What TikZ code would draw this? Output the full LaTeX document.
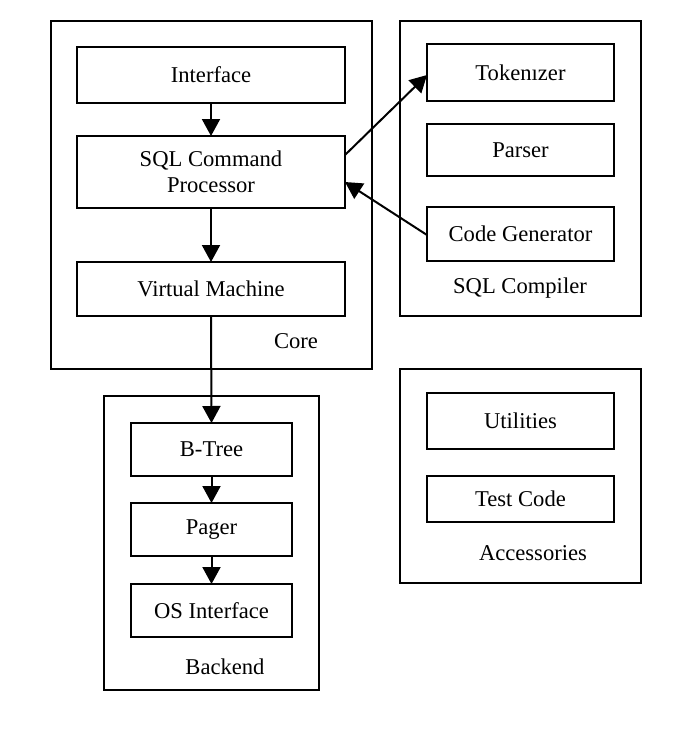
\documentclass[tikz,border=0pt]{standalone}
\usepackage{fontspec}
\setmainfont{Liberation Serif}
\usetikzlibrary{arrows.meta}

\begin{document}
\begin{tikzpicture}[x=0.5pt, y=-0.5pt,
		box/.style 2 args={draw, line width=1pt, minimum width=#1, minimum height=#2, inner sep=0pt, outer sep=0pt, align=center, font=\fontsize{11.3}{13}\selectfont},
		lbl/.style={font=\fontsize{11.3}{13}\selectfont, inner sep=0pt},
		arr/.style={-{Triangle[length=8.5pt, width=9pt]}, line width=1pt}]
		\useasboundingbox (0,0) rectangle (695,729);

		% core
		\node[box={160.5pt}{174pt}] (core) at (211.5,195) {};
		\node[box={134pt}{28pt}] (iface) at (211,75) {Interface};
		\node[box={134pt}{36pt}] (sqlcmd) at (211,172) {SQL Command\\Processor};
		\node[box={134pt}{27pt}] (vm) at (211,289) {Virtual Machine};
		\node[lbl] (lblcore) at (296,341) {Core};

		% sql compiler
		\node[box={120.5pt}{147.5pt}] (compiler) at (520.5,168.5) {};
		\node[box={93.5pt}{28.5pt}] (token) at (520.5,72.5) {Tokenızer};
		\node[box={93.5pt}{26pt}] (parser) at (520.5,150) {Parser};
		\node[box={93.5pt}{27pt}] (codegen) at (520.5,234) {Code Generator};
		\node[lbl] (lblcompiler) at (520,288) {SQL Compiler};

		% accessories
		\node[box={120.5pt}{107pt}] (acc) at (520.5,476) {};
		\node[box={93.5pt}{28pt}] (util) at (520.5,421) {Utilities};
		\node[box={93.5pt}{23pt}] (test) at (520.5,499) {Test Code};
		\node[lbl] (lblacc) at (533,553) {Accessories};

		% backend
		\node[box={107.5pt}{147pt}] (backend) at (211.5,543) {};
		\node[box={80.5pt}{26.5pt}] (btree) at (211.5,449.5) {B-Tree};
		\node[box={80.5pt}{26.5pt}] (pager) at (211.5,529.5) {Pager};
		\node[box={80.5pt}{26.5pt}] (osif) at (211.5,610.5) {OS Interface};
		\node[lbl] (lblbackend) at (225,667) {Backend};

		\draw[arr] (iface) -- (sqlcmd);
		\draw[arr] (sqlcmd) -- (vm);
		\draw[arr] (vm.south) -- (btree.north);
		\draw[arr] (btree) -- (pager);
		\draw[arr] (pager) -- (osif);
		\draw[arr] ([yshift=8.5pt]sqlcmd.east) -- ([yshift=-1.25pt]token.west);
		\draw[arr] ([yshift=-0.5pt]codegen.west) -- ([yshift=-5pt]sqlcmd.east);
	\end{tikzpicture}
\end{document}
